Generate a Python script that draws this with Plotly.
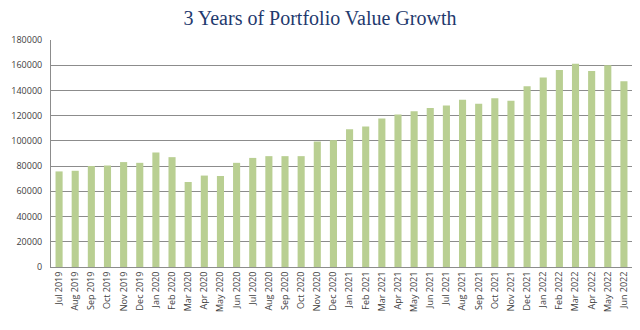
import plotly.graph_objects as go

months = ["Jul 2019", "Aug 2019", "Sep 2019", "Oct 2019", "Nov 2019", "Dec 2019",
          "Jan 2020", "Feb 2020", "Mar 2020", "Apr 2020", "May 2020", "Jun 2020",
          "Jul 2020", "Aug 2020", "Sep 2020", "Oct 2020", "Nov 2020", "Dec 2020",
          "Jan 2021", "Feb 2021", "Mar 2021", "Apr 2021", "May 2021", "Jun 2021",
          "Jul 2021", "Aug 2021", "Sep 2021", "Oct 2021", "Nov 2021", "Dec 2021",
          "Jan 2022", "Feb 2022", "Mar 2022", "Apr 2022", "May 2022", "Jun 2022"]
values = [75800, 76300, 80100, 80400, 83200, 82600,
          90800, 87100, 67400, 72500, 72100, 82600,
          86500, 87900, 87900, 87900, 99500, 100600,
          109300, 111500, 117800, 121000, 123600, 126000,
          128100, 132600, 129400, 133900, 131800, 143400,
          150300, 156200, 161200, 155400, 159900, 147200]
y_ticks = [0, 20000, 40000, 60000, 80000, 100000, 120000, 140000, 160000, 180000]

fig = go.Figure(go.Bar(x=months, y=values, marker=dict(color="#B9CF92", line=dict(width=0))))

fig.update_layout(
    width=640, height=330,
    margin=dict(l=51, r=8, t=40, b=63),
    paper_bgcolor="white", plot_bgcolor="white",
    bargap=0.56,
    showlegend=False,
    title=dict(text="3 Years of Portfolio Value Growth", x=0.5, xref="container", xanchor="center",
               y=0.945, yref="container", yanchor="middle",
               font=dict(family="Liberation Serif, DejaVu Serif, serif", size=20, color="#1F3A6E")),
    font=dict(family="Open Sans, Liberation Sans, sans-serif", size=9, color="#404040"),
)
fig.update_xaxes(tickangle=-90, showline=True, linecolor="#8C8C8C", linewidth=1,
                 showgrid=False, ticks="", tickfont=dict(size=9), automargin=False)
fig.update_yaxes(range=[0, 180000], tickvals=y_ticks, ticktext=[str(v) for v in y_ticks],
                 showgrid=True, gridcolor="#8C8C8C", gridwidth=1, zeroline=False,
                 showline=True, linecolor="#8C8C8C", linewidth=1, ticks="",
                 ticklabelstandoff=6,
                 tickfont=dict(size=9), automargin=False)

fig.write_html("out.html")
